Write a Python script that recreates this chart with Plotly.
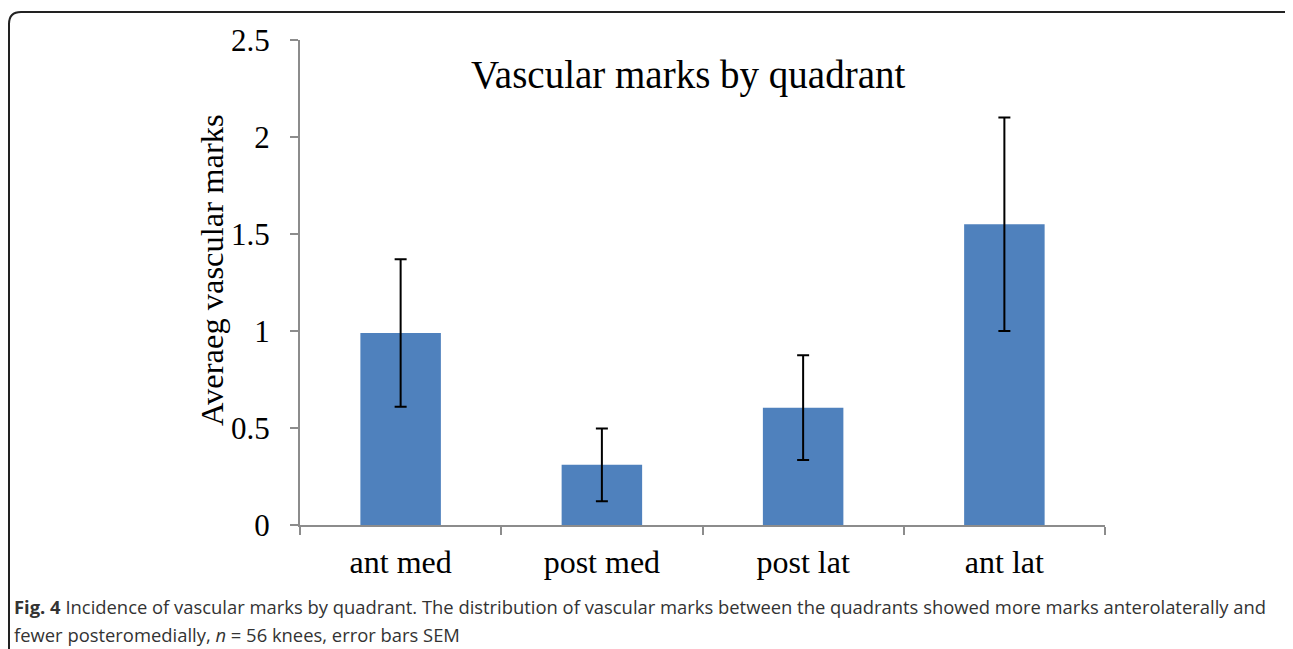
import plotly.graph_objects as go

categories = ["ant med", "post med", "post lat", "ant lat"]
values = [0.99, 0.31, 0.605, 1.55]
sem = [0.38, 0.187, 0.27, 0.55]
y_ticks = [0, 0.5, 1, 1.5, 2, 2.5]
y_tick_labels = ["0", "0.5", "1", "1.5", "2", "2.5"]

OFF = 8  # page body margin
W, H = 1293 - OFF, 649 - OFF
# plot area in reference pixel coordinates
AX_L, AX_R, AX_T, AX_B = 300, 1105, 40, 525
L, R, T, B = AX_L - OFF, W - (AX_R - OFF), AX_T - OFF, H - (AX_B - OFF)
PW, PH = AX_R - AX_L, AX_B - AX_T


def px(x):
    return (x - AX_L) / PW


def py(y):
    return (AX_B - y) / PH


SERIF = "Liberation Serif, Times New Roman, serif"
SANS = "Open Sans, sans-serif"

fig = go.Figure(
    go.Bar(
        x=categories,
        y=values,
        marker=dict(color="#4F81BD", line=dict(width=0)),
        error_y=dict(type="data", array=sem, visible=True, color="black", thickness=2, width=6),
        width=0.4,
    )
)

# rounded frame around the figure panel
r = 12
x0, x1, y0, y1 = 9, 1296, 12, 700
path = (
    f"M {px(x0)},{py(y1)} L {px(x0)},{py(y0 + r)} "
    f"Q {px(x0)},{py(y0)} {px(x0 + r)},{py(y0)} "
    f"L {px(x1 - r)},{py(y0)} Q {px(x1)},{py(y0)} {px(x1)},{py(y0 + r)} "
    f"L {px(x1)},{py(y1)}"
)
fig.add_shape(type="path", path=path, xref="paper", yref="paper",
              line=dict(color="#222222", width=2))

fig.add_annotation(
    text="Vascular marks by quadrant", x=px(688), y=py(75), xref="paper", yref="paper",
    showarrow=False, font=dict(family=SERIF, size=39, color="black"),
    xanchor="center", yanchor="middle",
)

fig.add_annotation(
    text="Averaeg vascular marks", x=px(212), y=py(270), xref="paper", yref="paper",
    showarrow=False, textangle=-90, font=dict(family=SERIF, size=32.5, color="black"),
    xanchor="center", yanchor="middle",
)

caption1 = ("<b>Fig. 4</b> Incidence of vascular marks by quadrant. The distribution of vascular marks "
            "between the quadrants showed more marks anterolaterally and")
caption2 = "fewer posteromedially, <i>n</i> = 56 knees, error bars SEM"
fig.add_annotation(text=caption1, x=px(12), y=py(606), xref="paper", yref="paper",
                   showarrow=False, xanchor="left", yanchor="middle",
                   font=dict(family=SANS, size=18.4, color="#333333"))
fig.add_annotation(text=caption2, x=px(12), y=py(634), xref="paper", yref="paper",
                   showarrow=False, xanchor="left", yanchor="middle",
                   font=dict(family=SANS, size=18.4, color="#333333"))

fig.update_layout(
    width=W, height=H,
    margin=dict(l=L, r=R, t=T, b=B, autoexpand=False),
    plot_bgcolor="white", paper_bgcolor="white",
    showlegend=False,
    bargap=0.6,
    xaxis=dict(
        showline=True, linecolor="#8C8C8C", linewidth=2,
        ticks="outside", tickson="boundaries", ticklen=8, tickcolor="#8C8C8C", tickwidth=2,
        tickfont=dict(family=SERIF, size=32, color="black"),
        ticklabelstandoff=8,
        showgrid=False, zeroline=False,
    ),
    yaxis=dict(
        range=[0, 2.5],
        tickvals=y_ticks, ticktext=y_tick_labels,
        showline=True, linecolor="#8C8C8C", linewidth=2,
        ticks="outside", ticklen=8, tickcolor="#8C8C8C", tickwidth=2,
        tickfont=dict(family=SERIF, size=31, color="black"),
        ticklabelstandoff=14,
        showgrid=False, zeroline=False,
    ),
)

fig.write_html("out.html")
